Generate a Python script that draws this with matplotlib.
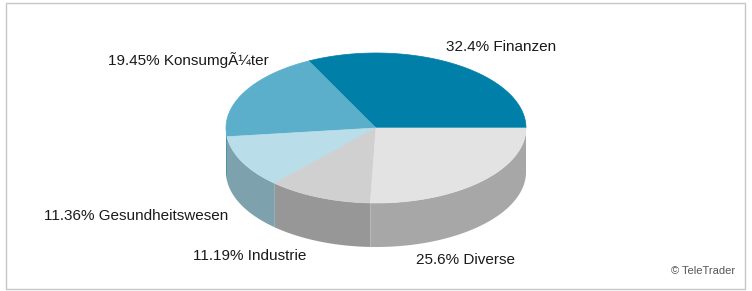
import numpy as np
import matplotlib.pyplot as plt
from matplotlib.patches import Polygon, Rectangle

labels = ["Finanzen", "KonsumgÃ¼ter", "Gesundheitswesen", "Industrie", "Diverse"]
shares = [32.4, 19.45, 11.36, 11.19, 25.6]
top_colors = ["#0080a8", "#5bafcb", "#b9dee9", "#d0d0d0", "#e3e3e3"]
side_colors = ["#006a8b", "#4b93ab", "#7da2ae", "#979797", "#a7a7a7"]

# label text positions (pixels, left/center anchored)
label_pos = [(446, 47), (108, 60), (44, 216), (193, 256), (416, 260)]

cx, cy = 376, 128
rx, ry = 150, 75
depth = 44

fig = plt.figure(figsize=(7.52, 2.91), dpi=100)
ax = fig.add_axes([0, 0, 1, 1])
ax.set_xlim(0, 752)
ax.set_ylim(291, 0)
ax.axis("off")

ax.add_patch(Rectangle((6, 3), 739, 286, fill=False, edgecolor="#c6c6c6", lw=1))


def arc(t1, t2, n=120):
    t = np.radians(np.linspace(t1, t2, n))
    return np.column_stack([cx + rx * np.cos(t), cy - ry * np.sin(t)])


fracs = np.array(shares) / sum(shares)
edges = np.concatenate([[0], np.cumsum(fracs) * 360])

# side walls (front half only: 180..360 deg)
for i in range(len(shares)):
    a1, a2 = max(edges[i], 180), min(edges[i + 1], 360)
    if a2 <= a1:
        continue
    top = arc(a1, a2)
    bot = top[::-1] + [0, depth]
    ax.add_patch(Polygon(np.vstack([top, bot]), closed=True,
                         facecolor=side_colors[i], edgecolor="none"))

# top faces
for i in range(len(shares)):
    pts = np.vstack([[cx, cy], arc(edges[i], edges[i + 1]), [cx, cy]])
    ax.add_patch(Polygon(pts, closed=True, facecolor=top_colors[i],
                         edgecolor=top_colors[i], lw=0.5))

for lab, val, (x, y) in zip(labels, shares, label_pos):
    ax.text(x, y, f"{val:g}% {lab}", fontsize=11, family="Liberation Sans",
            color="#1a1a1a", ha="left", va="center")

ax.text(735, 271, "© TeleTrader", fontsize=8, family="Liberation Sans",
        color="#555555", ha="right", va="center")

fig.savefig("out.png", dpi=100)
